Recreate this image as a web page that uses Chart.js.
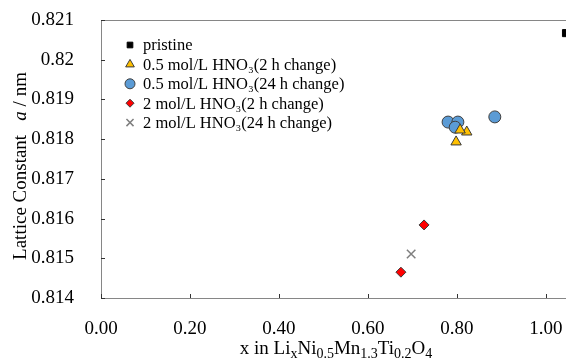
<!DOCTYPE html>
<html>
<head>
<meta charset="utf-8">
<script src="https://cdn.jsdelivr.net/npm/chart.js@4"></script>
<style>
  html, body { margin: 0; padding: 0; background: #fff; }
  #wrap { width: 566px; height: 361px; }
</style>
</head>
<body>
<div id="wrap"><canvas id="chart"></canvas></div>
<script>
// values
const pristineX = [1.045];
const pristineY = [0.82067];
const half2hX = [0.822, 0.798, 0.807];
const half2hY = [0.81818, 0.81793, 0.81823];
const half24hX = [0.780, 0.802, 0.796, 0.885];
const half24hY = [0.81843, 0.81843, 0.81830, 0.81856];
const two2hX = [0.726, 0.674];
const two2hY = [0.81584, 0.81465];
const two24hX = [0.697];
const two24hY = [0.81511];

const xTicks = [0, 0.2, 0.4, 0.6, 0.8, 1.0];
const yTicks = [0.814, 0.815, 0.816, 0.817, 0.818, 0.819, 0.820, 0.821];

const FONT = 'Liberation Serif';
const AXIS = '#868686';

function pts(xs, ys) {
    return xs.map((x, i) => ({ x: x, y: ys[i] }));
}

const datasets = [
    { label: 'pristine', data: pts(pristineX, pristineY), pointStyle: 'rect',
      pointRadius: 5, backgroundColor: '#000', borderColor: '#000', borderWidth: 1 },
    { label: '0.5 mol/L HNO\u2083(2 h change)', data: pts(half2hX, half2hY), pointStyle: 'triangle',
      pointRadius: 6, backgroundColor: '#FFC000', borderColor: '#3a3a3a', borderWidth: 1 },
    { label: '0.5 mol/L HNO\u2083(24 h change)', data: pts(half24hX, half24hY), pointStyle: 'circle',
      pointRadius: 6, backgroundColor: '#5B9BD5', borderColor: '#404040', borderWidth: 1 },
    { label: '2 mol/L HNO\u2083(2 h change)', data: pts(two2hX, two2hY), pointStyle: 'rectRot',
      pointRadius: 5, backgroundColor: '#FF0000', borderColor: '#3a3a3a', borderWidth: 1 },
    { label: '2 mol/L HNO\u2083(24 h change)', data: pts(two24hX, two24hY), pointStyle: 'crossRot',
      pointRadius: 6, backgroundColor: '#7F7F7F', borderColor: '#7F7F7F', borderWidth: 1.5 }
];

// inside ticks, frame, legend and axis titles
const decor = {
    id: 'decor',
    afterDraw(chart) {
        const ctx = chart.ctx;
        const a = chart.chartArea;
        const xs = chart.scales.x, ys = chart.scales.y;
        ctx.save();
        ctx.strokeStyle = AXIS;
        ctx.lineWidth = 1;
        ctx.beginPath();
        ctx.moveTo(a.left, a.top + 0.5);
        ctx.lineTo(a.right, a.top + 0.5);
        ctx.stroke();
        ctx.strokeStyle = '#333';
        ctx.beginPath();
        xTicks.forEach(v => {
            const px = Math.round(xs.getPixelForValue(v)) + 0.5;
            ctx.moveTo(px, a.bottom);
            ctx.lineTo(px, a.bottom - 4);
        });
        yTicks.forEach(v => {
            const py = Math.round(ys.getPixelForValue(v)) + 0.5;
            ctx.moveTo(a.left, py);
            ctx.lineTo(a.left + 4, py);
        });
        ctx.stroke();

        // legend
        ctx.font = '16.5px "' + FONT + '"';
        ctx.textBaseline = 'middle';
        datasets.forEach((d, i) => {
            const y = 45 + i * 19.4;
            ctx.fillStyle = d.backgroundColor;
            ctx.strokeStyle = d.borderColor;
            ctx.lineWidth = d.borderWidth;
            Chart.helpers.drawPoint(ctx, { pointStyle: d.pointStyle, radius: d.pointRadius - 1, borderWidth: d.borderWidth }, 130, y);
            ctx.fillStyle = '#000';
            ctx.fillText(d.label, 143, y + 1);
        });

        // x title with subscripts
        const parts = [['x in Li', 0], ['x', 1], ['Ni', 0], ['0.5', 1], ['Mn', 0], ['1.3', 1], ['Ti', 0], ['0.2', 1], ['O', 0], ['4', 1]];
        const big = '19px "' + FONT + '"', small = '14px "' + FONT + '"';
        let w = 0;
        parts.forEach(p => { ctx.font = p[1] ? small : big; w += ctx.measureText(p[0]).width; });
        let x = 336 - w / 2;
        ctx.textBaseline = 'alphabetic';
        parts.forEach(p => {
            ctx.font = p[1] ? small : big;
            ctx.fillText(p[0], x, p[1] ? 358 : 354);
            x += ctx.measureText(p[0]).width;
        });

        // y title with italic a
        ctx.translate(26, 166);
        ctx.rotate(-Math.PI / 2);
        const yParts = [['Lattice Constant   ', '19px "' + FONT + '"'], ['a', 'italic 19px "' + FONT + '"'], [' / nm', '19px "' + FONT + '"']];
        w = 0;
        yParts.forEach(p => { ctx.font = p[1]; w += ctx.measureText(p[0]).width; });
        x = -w / 2;
        yParts.forEach(p => {
            ctx.font = p[1];
            ctx.fillText(p[0], x, 0);
            x += ctx.measureText(p[0]).width;
        });
        ctx.restore();
    }
};

new Chart(document.getElementById('chart'), {
    type: 'scatter',
    data: { datasets: datasets },
    options: {
        responsive: true,
        maintainAspectRatio: false,
        animation: false,
        layout: { autoPadding: false, padding: { top: 20, right: 0, left: 0, bottom: 0 } },
        plugins: { legend: { display: false }, tooltip: { enabled: false } },
        scales: {
            x: {
                type: 'linear', min: 0, max: 1.045,
                grid: { display: false },
                border: { display: true, color: AXIS, width: 1 },
                afterBuildTicks: s => { s.ticks = xTicks.map(v => ({ value: v })); },
                afterFit: s => { s.height = 63; s.paddingLeft = 0; s.paddingRight = 0; },
                ticks: {
                    padding: 12, color: '#000', maxRotation: 0,
                    font: { family: FONT, size: 19 },
                    callback: v => v.toFixed(2)
                }
            },
            y: {
                type: 'linear', min: 0.814, max: 0.821,
                grid: { display: false },
                border: { display: true, color: AXIS, width: 1 },
                afterBuildTicks: s => { s.ticks = yTicks.map(v => ({ value: v })); },
                afterFit: s => { s.width = 101; s.paddingTop = 0; s.paddingBottom = 0; },
                ticks: {
                    padding: 19, color: '#000',
                    font: { family: FONT, size: 19 },
                    callback: v => String(parseFloat(v.toFixed(3)))
                }
            }
        }
    },
    plugins: [decor]
});
</script>
</body>
</html>
